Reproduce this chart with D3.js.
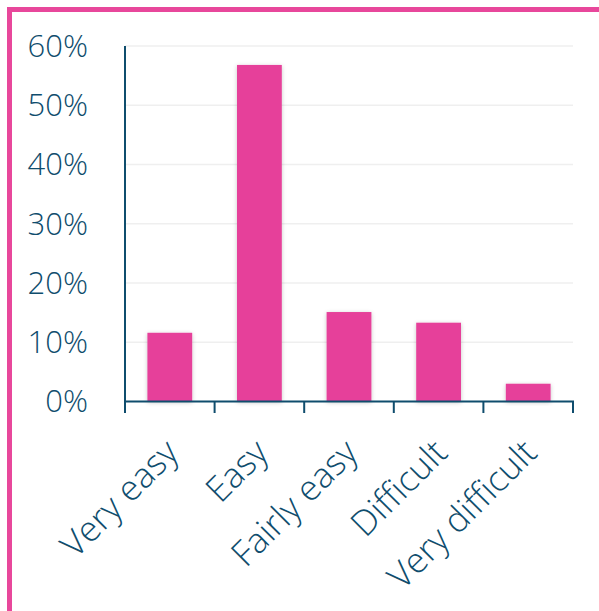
<!DOCTYPE html>
<html>
<head>
<meta charset="utf-8">
<script src="https://cdn.jsdelivr.net/npm/d3@7"></script>
<style>
  html, body { margin: 0; padding: 0; background: #ffffff; }
  svg { display: block; }
  .tickLabel {
    font-family: "Open Sans", Lato, sans-serif;
    font-weight: 300;
    font-size: 31px;
    font-variant-ligatures: none;
    fill: #0f4d6d;
  }
  .catLabel { font-size: 35px; }
</style>
</head>
<body>
<svg id="chart"></svg>
<script>
var categories = ['Very easy', 'Easy', 'Fairly easy', 'Difficult', 'Very difficult'];
var shares = [0.116, 0.568, 0.151, 0.133, 0.030];
var yTicks = [0, 0.1, 0.2, 0.3, 0.4, 0.5, 0.6];

var svgWidth = 599;
var svgHeight = 611;

var plot = {
  left: 125,
  right: 573,
  top: 46,
  bottom: 401.5
}

var ink = '#0f4d6d';
var pink = '#e6419a';

var svg = d3.select('#chart').attr('width', svgWidth).attr('height', svgHeight);

// soft shadow behind the bars
var defs = svg.append('defs');
var shadow = defs.append('filter').attr('id', 'barShadow')
  .attr('x', '-20%').attr('y', '-20%').attr('width', '140%').attr('height', '140%');
shadow.append('feDropShadow')
  .attr('dx', 0).attr('dy', 1).attr('stdDeviation', 2.2)
  .attr('flood-color', '#000').attr('flood-opacity', 0.22);

// pink frame, only top and left edges fall inside the window
svg.append('rect')
  .attr('x', 9.5).attr('y', 9.5)
  .attr('width', 800).attr('height', 800)
  .attr('fill', 'none')
  .attr('stroke', '#e8479b')
  .attr('stroke-width', 5);

var xScale = d3.scaleBand()
  .domain(categories)
  .range([plot.left, plot.right])
  .paddingInner(0.5)
  .paddingOuter(0.25);

var yScale = d3.scaleLinear()
  .domain([0, 0.6])
  .range([plot.bottom, plot.top]);

// gridlines
svg.append('g').selectAll('line')
  .data(yTicks.slice(1))
  .enter()
  .append('line')
  .attr('x1', plot.left).attr('x2', plot.right)
  .attr('y1', (d) => yScale(d)).attr('y2', (d) => yScale(d))
  .attr('stroke', '#efefef')
  .attr('stroke-width', 1.6);

// bars
svg.append('g').selectAll('rect')
  .data(shares)
  .enter()
  .append('rect')
  .attr('x', (d, i) => xScale(categories[i]))
  .attr('y', (d) => yScale(d))
  .attr('width', xScale.bandwidth())
  .attr('height', (d) => plot.bottom - yScale(d))
  .attr('fill', pink)
  .attr('filter', 'url(#barShadow)');

// y axis line and labels
svg.append('line')
  .attr('x1', plot.left).attr('x2', plot.left)
  .attr('y1', plot.top).attr('y2', plot.bottom + 1)
  .attr('stroke', ink).attr('stroke-width', 2);

svg.append('g').selectAll('text')
  .data(yTicks)
  .enter()
  .append('text')
  .attr('class', 'tickLabel')
  .attr('x', 88)
  .attr('y', (d) => yScale(d))
  .attr('dy', '0.35em')
  .attr('text-anchor', 'end')
  .text((d) => d3.format('.0%')(d));

// x axis line with ticks on the band edges
svg.append('line')
  .attr('x1', plot.left - 1).attr('x2', plot.right + 1)
  .attr('y1', plot.bottom).attr('y2', plot.bottom)
  .attr('stroke', ink).attr('stroke-width', 2);

var step = xScale.step();
var edges = categories.map((c) => xScale(c) + xScale.bandwidth() / 2 - step / 2);
edges.push(plot.right);

svg.append('g').selectAll('line')
  .data(edges)
  .enter()
  .append('line')
  .attr('x1', (d) => d).attr('x2', (d) => d)
  .attr('y1', plot.bottom).attr('y2', plot.bottom + 11.5)
  .attr('stroke', ink).attr('stroke-width', 2);

// rotated category labels
svg.append('g').selectAll('text')
  .data(categories)
  .enter()
  .append('text')
  .attr('class', 'tickLabel catLabel')
  .attr('text-anchor', 'end')
  .attr('dy', '0.35em')
  .attr('transform', (d) => 'translate(' + (xScale(d) + xScale.bandwidth() / 2 + 2) + ',' + 446 + ')rotate(-45)')
  .text((d) => d);
</script>
</body>
</html>
